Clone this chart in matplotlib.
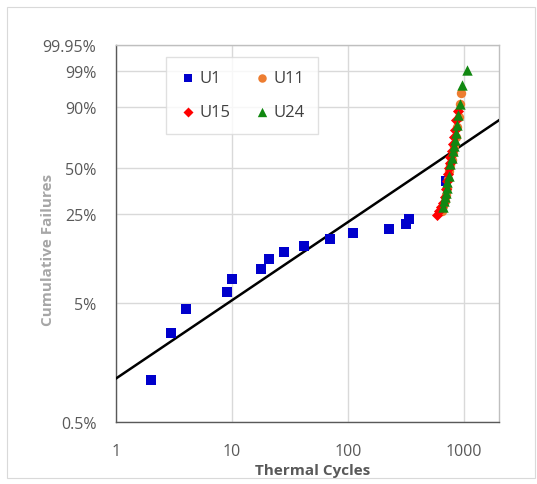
import numpy as np
import matplotlib
matplotlib.use("Agg")
import matplotlib.pyplot as plt
from matplotlib.patches import Rectangle

plt.rcParams['font.family'] = ['Open Sans', 'DejaVu Sans']

# ---- data (cycles, cumulative failure fraction) ----
u1_x = [2, 3, 4, 9, 10, 18, 21, 28, 42, 70, 110, 228, 319, 336, 706]
u1_f = [0.0114, 0.0279, 0.0446, 0.0608, 0.0776, 0.0937, 0.112, 0.127, 0.143,
        0.161, 0.179, 0.194, 0.210, 0.227, 0.42]

u11_x = [640, 660, 680, 700, 715, 730, 745, 760, 780, 800, 825, 850, 875, 900, 930, 950]
u11_f = [0.26, 0.285, 0.31, 0.34, 0.38, 0.43, 0.48, 0.52, 0.56, 0.61, 0.66, 0.72,
         0.79, 0.85, 0.91, 0.95]

u15_x = [586, 610, 638, 665, 690, 705, 718, 728, 740, 752, 763, 780, 800, 820, 840, 860, 880]
u15_f = [0.245, 0.26, 0.278, 0.30, 0.33, 0.37, 0.42, 0.46, 0.50, 0.54, 0.58, 0.62,
         0.67, 0.72, 0.77, 0.83, 0.88]

u24_x = [660, 675, 690, 700, 712, 720, 735, 760, 785, 805, 820, 835, 850, 870, 895, 925, 968, 1070]
u24_f = [0.28, 0.31, 0.33, 0.35, 0.38, 0.41, 0.45, 0.53, 0.57, 0.62, 0.66, 0.70,
         0.75, 0.80, 0.86, 0.91, 0.97, 0.991]

# Weibull fit parameters
fit_beta = 0.66
fit_eta = 845.0

y_ticks = [0.005, 0.05, 0.25, 0.5, 0.9, 0.99, 0.9995]
y_ticklabels = ['0.5%', '5%', '25%', '50%', '90%', '99%', '99.95%']
x_ticks = [1, 10, 100, 1000]
x_ticklabels = ['1', '10', '100', '1000']

# ---- figure ----
W, H = 537, 485
fig = plt.figure(figsize=(W / 100, H / 100), dpi=100)
fig.patch.set_facecolor('white')
fig.patches.append(Rectangle((7 / W, 1 - 479 / H), (528) / W, (471) / H,
                             transform=fig.transFigure, fill=False,
                             edgecolor='#d9d9d9', linewidth=0.8))

ax = fig.add_axes([115.7 / W, 1 - 423.4 / H, (499 - 115.7) / W, (423.4 - 46) / H])


def fwd(f):
    f = np.clip(f, 1e-9, 1 - 1e-9)
    return np.log(-np.log(1 - f))


def inv(w):
    return 1 - np.exp(-np.exp(w))


ax.set_xscale('log')
ax.set_yscale('function', functions=(fwd, inv))
ax.set_xlim(1, 2000)
ax.set_ylim(0.005, 0.9995)

ax.set_xticks(x_ticks)
ax.set_xticklabels(x_ticklabels)
ax.xaxis.set_minor_locator(matplotlib.ticker.NullLocator())
ax.set_yticks(y_ticks)
ax.set_yticklabels(y_ticklabels)
ax.yaxis.set_minor_locator(matplotlib.ticker.NullLocator())
ax.tick_params(length=0, labelsize=11.5, colors='#595959')
ax.tick_params(axis='y', pad=14)
ax.tick_params(axis='x', pad=15)

ax.grid(True, color='#d9d9d9', linewidth=1.0)
ax.set_axisbelow(True)
for s in ['top', 'right']:
    ax.spines[s].set_color('#bfbfbf')
    ax.spines[s].set_linewidth(1.0)
for s in ['left', 'bottom']:
    ax.spines[s].set_color('#595959')
    ax.spines[s].set_linewidth(1.0)

# fit line
xf = np.geomspace(1, 2000, 200)
ax.plot(xf, 1 - np.exp(-(xf / fit_eta) ** fit_beta), color='black', lw=1.8, zorder=3)

h1 = ax.scatter(u1_x, u1_f, marker='s', s=46, color='#0000CC', label='U1', zorder=4, linewidths=0)
h11 = ax.scatter(u11_x, u11_f, marker='o', s=46, color='#ED7D31', label='U11', zorder=4, linewidths=0)
h15 = ax.scatter(u15_x, u15_f, marker='D', s=32, color='#FF0000', label='U15', zorder=5, linewidths=0)
h24 = ax.scatter(u24_x, u24_f, marker='^', s=56, color='#118811', label='U24', zorder=6, linewidths=0)

leg = ax.legend([h1, h15, h11, h24], ['U1', 'U15', 'U11', 'U24'], ncol=2,
                loc='upper left', bbox_to_anchor=(0.13, 0.969), borderaxespad=0,
                fontsize=12, frameon=True, fancybox=False, edgecolor='#d9d9d9',
                labelspacing=1.1, columnspacing=1.3, handletextpad=0.15,
                handlelength=1.1, borderpad=0.8, markerscale=0.9)
leg.get_frame().set_linewidth(1.0)
for t in leg.get_texts():
    t.set_color('#404040')

fig.text(313 / W, 1 - 471 / H, 'Thermal Cycles', ha='center', va='center',
         fontsize=11, fontweight='bold', color='#595959')
fig.text(48 / W, 1 - 250 / H, 'Cumulative Failures', ha='center', va='center',
         rotation=90, fontsize=11, fontweight='bold', color='#a6a6a6')

fig.savefig('out.png', dpi=100)
